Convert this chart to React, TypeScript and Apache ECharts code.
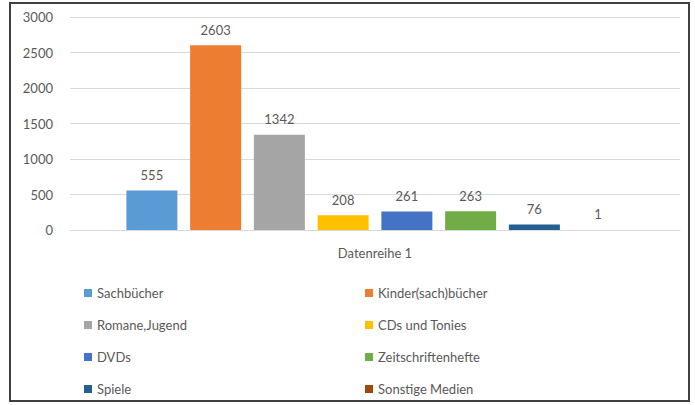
import React, { useEffect, useRef } from "react";
import * as echarts from "echarts";

const categories = ["Datenreihe 1"];
const seriesNames = [
  "Sachbücher",
  "Kinder(sach)bücher",
  "Romane,Jugend",
  "CDs und Tonies",
  "DVDs",
  "Zeitschriftenhefte",
  "Spiele",
  "Sonstige Medien",
];
const seriesValues = [555, 2603, 1342, 208, 261, 263, 76, 1];
const colors = ["#5B9BD5", "#ED7D31", "#A5A5A5", "#FFC000", "#4472C4", "#70AD47", "#255E91", "#9E480E"];
const yTicks = { min: 0, max: 3000, interval: 500 };

const FONT = "Lato, 'Open Sans', sans-serif";
const TEXT = "#595959";

export default function App() {
  const ref = useRef<HTMLDivElement>(null);
  useEffect(() => {
    if (!ref.current) return;
    const chart = echarts.init(ref.current, undefined, { renderer: "svg" });
    const series = seriesNames.map((name, i) => ({
      name,
      type: "bar",
      barWidth: 51,
      barGap: "25%",
      data: [seriesValues[i]],
      itemStyle: { color: colors[i] },
      label: {
        show: true,
        position: "top",
        distance: 9,
        color: TEXT,
        fontFamily: FONT,
        fontSize: 13,
      },
    }));
    const legendBase = {
      orient: "vertical",
      top: 285,
      height: 150,
      padding: 0,
      itemWidth: 8,
      itemHeight: 8,
      itemGap: 16,
      icon: "rect",
      textStyle: { color: TEXT, fontFamily: FONT, fontSize: 13, lineHeight: 16 },
    };
    chart.setOption({
      animation: false,
      backgroundColor: "#ffffff",
      color: colors,
      grid: { left: 70, right: 15, top: 17, bottom: 175, containLabel: false },
      xAxis: {
        type: "category",
        data: categories,
        axisLine: { show: true, lineStyle: { color: "#d9d9d9", width: 1 } },
        axisTick: { show: false },
        axisLabel: { color: TEXT, fontFamily: FONT, fontSize: 13, margin: 16 },
      },
      yAxis: {
        type: "value",
        min: yTicks.min,
        max: yTicks.max,
        interval: yTicks.interval,
        axisLine: { show: false },
        axisTick: { show: false },
        splitLine: { lineStyle: { color: "#d9d9d9", width: 1 } },
        axisLabel: {
          color: TEXT,
          fontFamily: FONT,
          fontSize: 13,
          margin: 17,
          formatter: (v: number) => String(v),
        },
      },
      legend: [
        {
          ...legendBase,
          left: 84,
          data: [seriesNames[0], seriesNames[2], seriesNames[4], seriesNames[6]],
        },
        {
          ...legendBase,
          left: 365,
          data: [seriesNames[1], seriesNames[3], seriesNames[5], seriesNames[7]],
        },
      ],
      graphic: [
        {
          type: "rect",
          shape: { x: 10, y: 3, width: 679, height: 398 },
          style: { fill: "none", stroke: "#404040", lineWidth: 2 },
          silent: true,
          z: 100,
        },
      ],
      series,
    });
    return () => chart.dispose();
  }, []);
  return (
    <div
      ref={ref}
      style={{ position: "fixed", left: 0, top: 0, width: 695, height: 405, background: "#fff" }}
    />
  );
}
